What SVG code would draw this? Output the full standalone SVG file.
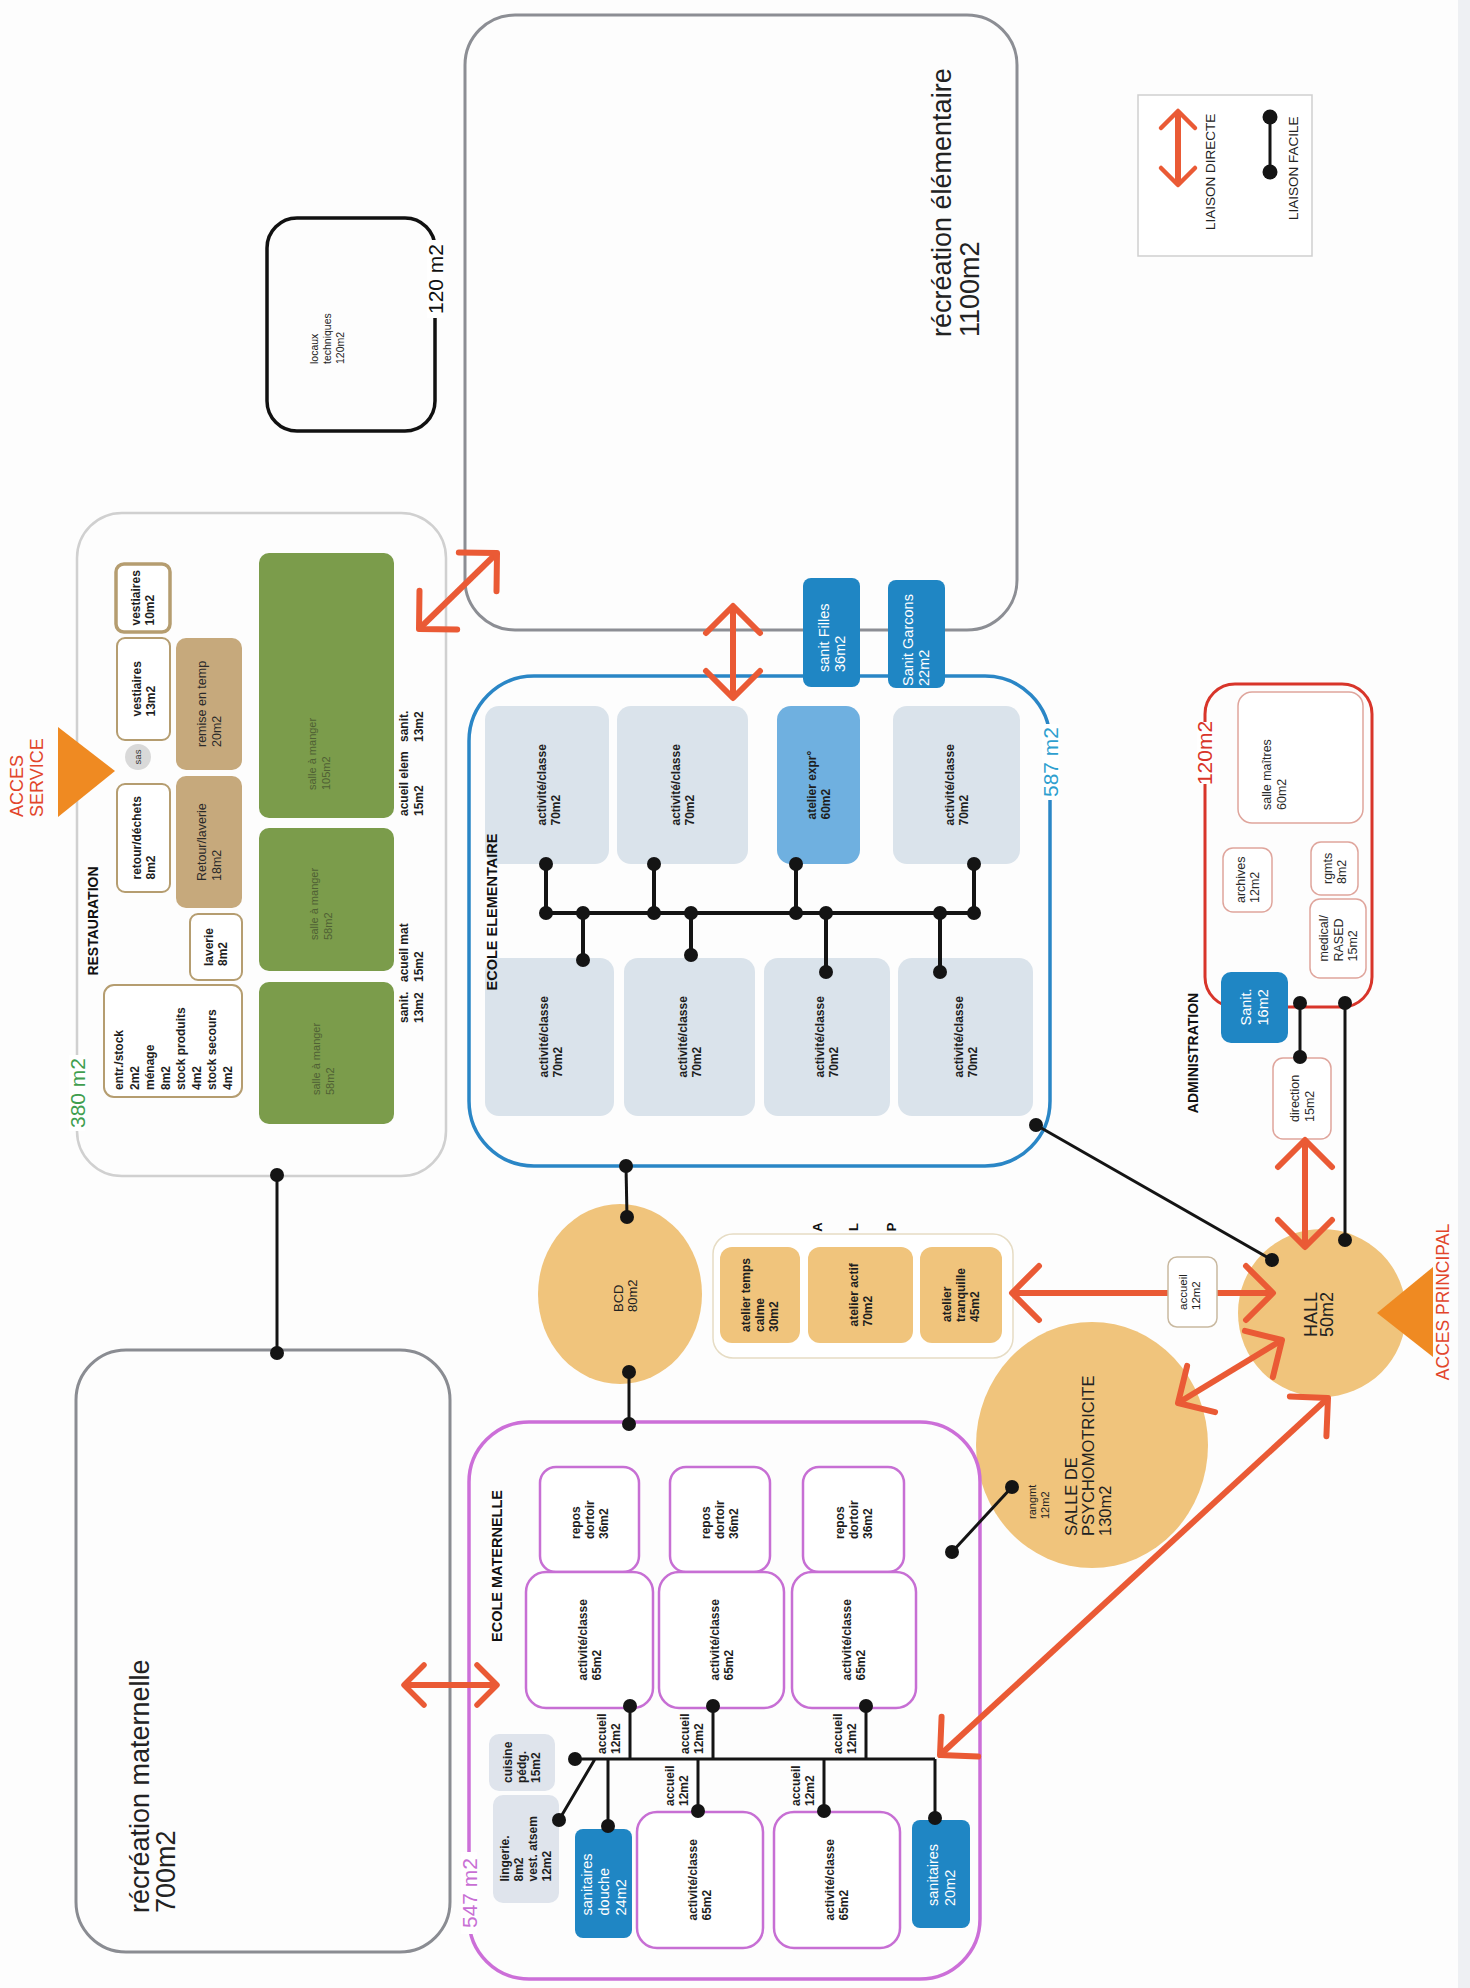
<svg xmlns="http://www.w3.org/2000/svg" width="1470" height="1988" viewBox="0 0 1470 1988">
<defs>
<style>
text{font-family:"Liberation Sans",Arial,sans-serif}
.b{font-weight:bold;font-size:12px;fill:#1e1e1e}
.r{font-size:12.5px;fill:#2a2a2a}
.w{font-size:14.5px;fill:#fff}
.g{font-size:11px;fill:#4f6034}
.t{font-weight:bold;fill:#111}
.big{font-size:27px;fill:#222}
.area{font-size:21px}
.acc{fill:#e2452b}
.conn{stroke:#141414;stroke-width:3;fill:none}
.tree{stroke:#141414;stroke-width:4;fill:none}
.dot{fill:#141414}
.arr{stroke:#ea5a35;stroke-width:6;fill:none}
.tan{fill:#fff;stroke:#b59d70;stroke-width:2}
.tanf{fill:#c6a97c}
.grn{fill:#7b9c4b}
.eb{fill:#dae3eb}
.mb{fill:#fff;stroke:#c76fd4;stroke-width:2.5}
.sb{fill:#1f86c4}
.ab{fill:#fff;stroke:#dfa59c;stroke-width:1.5}
.or{fill:#f0c47c}
.bg{fill:#fff}
</style>
<marker id="aL" viewBox="-32 -32 36 64" refX="0" refY="0" markerWidth="36" markerHeight="64" markerUnits="userSpaceOnUse" orient="auto-start-reverse"><path d="M-27,-27 L0,0 L-27,27" fill="none" stroke="#ea5a35" stroke-width="6" stroke-linecap="round" stroke-linejoin="round"/></marker>
<marker id="aM" viewBox="-25 -25 29 50" refX="0" refY="0" markerWidth="29" markerHeight="50" markerUnits="userSpaceOnUse" orient="auto-start-reverse"><path d="M-20,-20 L0,0 L-20,20" fill="none" stroke="#ea5a35" stroke-width="5.5" stroke-linecap="round" stroke-linejoin="round"/></marker>
<marker id="aS" viewBox="-21 -21 25 42" refX="0" refY="0" markerWidth="25" markerHeight="42" markerUnits="userSpaceOnUse" orient="auto-start-reverse"><path d="M-17,-17 L0,0 L-17,17" fill="none" stroke="#ea5a35" stroke-width="4.5" stroke-linecap="round" stroke-linejoin="round"/></marker>
</defs>
<rect x="0" y="0" width="1470" height="1988" fill="#fdfdfd"/>
<rect x="1458" y="0" width="12" height="1988" fill="#eef0f3"/>

<!-- récréation élémentaire -->
<g id="recreation-elementaire">
<rect x="465" y="15" width="552" height="615" rx="50" fill="none" stroke="#8c8e94" stroke-width="3"/>
<text class="big" transform="translate(951,337) rotate(-90)"><tspan x="0" y="0">récréation élémentaire</tspan><tspan x="0" y="28">1100m2</tspan></text>
</g>

<!-- locaux techniques -->
<g id="locaux-techniques">
<rect x="267" y="218" width="168" height="213" rx="30" fill="none" stroke="#111" stroke-width="3.5"/>
<rect class="bg" x="427" y="240" width="16" height="78"/>
<text class="area" fill="#111" text-anchor="middle" transform="translate(443,279) rotate(-90)">120 m2</text>
<text font-size="10.5" fill="#222" transform="translate(318,364) rotate(-90)"><tspan x="0" y="0">locaux</tspan><tspan x="0" y="13">techniques</tspan><tspan x="0" y="26">120m2</tspan></text>
</g>

<!-- récréation maternelle -->
<g id="recreation-maternelle">
<rect x="76" y="1350" width="374" height="602" rx="50" fill="none" stroke="#8a8c92" stroke-width="3"/>
<text class="big" transform="translate(149,1913) rotate(-90)"><tspan x="0" y="0">récréation maternelle</tspan><tspan x="0" y="26">700m2</tspan></text>
</g>

<!-- restauration -->
<g id="restauration">
<rect x="77" y="513" width="369" height="663" rx="45" fill="none" stroke="#d0d0d0" stroke-width="2.5"/>
<rect class="bg" x="69" y="1055" width="16" height="76"/>
<text class="area" fill="#3f9e4f" text-anchor="middle" transform="translate(85,1093) rotate(-90)">380 m2</text>
<text class="t" font-size="14" text-anchor="middle" transform="translate(98,921) rotate(-90)">RESTAURATION</text>
<g id="vestiaires10"><rect x="116" y="564" width="54" height="68" rx="8" fill="#fff" stroke="#b59d70" stroke-width="3.5"/>
<text class="b" transform="translate(143,598) rotate(-90)"><tspan x="-27.5" y="-2.7">vestiaires</tspan><tspan x="-27.5" y="11.3">10m2</tspan></text></g>
<g id="vestiaires13"><rect class="tan" x="117" y="638" width="53" height="102" rx="8"/>
<text class="b" transform="translate(143.5,689) rotate(-90)"><tspan x="-27.5" y="-2.7">vestiaires</tspan><tspan x="-27.5" y="11.3">13m2</tspan></text></g>
<g id="sas"><circle cx="138" cy="757" r="13" fill="#d9d9d9"/>
<text font-size="9.5" fill="#333" text-anchor="middle" transform="translate(141,757) rotate(-90)">sas</text></g>
<g id="remise"><rect class="tanf" x="176" y="638" width="66" height="132" rx="10"/>
<text class="r" transform="translate(209,704) rotate(-90)"><tspan x="-43" y="-2.7">remise en temp</tspan><tspan x="-43" y="12">20m2</tspan></text></g>
<g id="retour-dechets"><rect class="tan" x="117" y="784" width="53" height="108" rx="8"/>
<text class="b" transform="translate(143.5,838) rotate(-90)"><tspan x="-41.5" y="-2.7">retour/déchets</tspan><tspan x="-41.5" y="11.3">8m2</tspan></text></g>
<g id="retour-laverie"><rect class="tanf" x="176" y="776" width="66" height="132" rx="10"/>
<text class="r" transform="translate(209,842) rotate(-90)"><tspan x="-39" y="-2.7">Retour/laverie</tspan><tspan x="-39" y="12">18m2</tspan></text></g>
<g id="laverie"><rect class="tan" x="190" y="914" width="52" height="66" rx="8"/>
<text class="b" transform="translate(216,947) rotate(-90)"><tspan x="-19" y="-2.7">laverie</tspan><tspan x="-19" y="11.3">8m2</tspan></text></g>
<g id="entr-stock"><rect class="tan" x="104" y="985" width="138" height="112" rx="10"/>
<text class="b" transform="translate(173,1040) rotate(-90)"><tspan x="-50" y="-50">entr./stock</tspan><tspan x="-50" y="-34.5">2m2</tspan><tspan x="-50" y="-19">ménage</tspan><tspan x="-50" y="-3.5">8m2</tspan><tspan x="-50" y="12">stock produits</tspan><tspan x="-50" y="27.5">4m2</tspan><tspan x="-50" y="43">stock secours</tspan><tspan x="-50" y="58.5">4m2</tspan></text></g>
<g id="salle105"><rect class="grn" x="259" y="553" width="135" height="265" rx="10"/>
<text class="g" transform="translate(316,790) rotate(-90)"><tspan x="0" y="0">salle à manger</tspan><tspan x="0" y="14">105m2</tspan></text></g>
<g id="salle58a"><rect class="grn" x="259" y="828" width="135" height="143" rx="10"/>
<text class="g" transform="translate(318,940) rotate(-90)"><tspan x="0" y="0">salle à manger</tspan><tspan x="0" y="14">58m2</tspan></text></g>
<g id="salle58b"><rect class="grn" x="259" y="982" width="135" height="142" rx="10"/>
<text class="g" transform="translate(320,1095) rotate(-90)"><tspan x="0" y="0">salle à manger</tspan><tspan x="0" y="14">58m2</tspan></text></g>
<text class="b" transform="translate(408,742) rotate(-90)"><tspan x="0" y="0">sanit.</tspan><tspan x="0" y="15">13m2</tspan></text>
<text class="b" transform="translate(408,816) rotate(-90)"><tspan x="0" y="0">acueil elem</tspan><tspan x="0" y="15">15m2</tspan></text>
<text class="b" transform="translate(408,982) rotate(-90)"><tspan x="0" y="0">acueil mat</tspan><tspan x="0" y="15">15m2</tspan></text>
<text class="b" transform="translate(408,1023) rotate(-90)"><tspan x="0" y="0">sanit.</tspan><tspan x="0" y="15">13m2</tspan></text>
</g>

<!-- acces service -->
<g id="acces-service">
<polygon points="58,727 58,817 115,771" fill="#ef8a22"/>
<text class="acc" font-size="18" transform="translate(23,817) rotate(-90)"><tspan x="0" y="0">ACCES</tspan><tspan x="0" y="20">SERVICE</tspan></text>
</g>

<!-- école élémentaire -->
<g id="ecole-elementaire">
<rect x="469" y="676" width="581" height="490" rx="65" fill="none" stroke="#2a86c6" stroke-width="3.5"/>
<rect class="bg" x="1042" y="724" width="17" height="76"/>
<text class="area" fill="#2e9fcf" text-anchor="middle" transform="translate(1058,762) rotate(-90)">587 m2</text>
<g id="e1"><rect class="eb" x="485" y="706" width="124" height="158" rx="14"/><text class="b" transform="translate(549,785) rotate(-90)"><tspan x="-40.5" y="-2.7">activité/classe</tspan><tspan x="-40.5" y="11.3">70m2</tspan></text></g>
<g id="e2"><rect class="eb" x="617" y="706" width="131" height="158" rx="14"/><text class="b" transform="translate(682.5,785) rotate(-90)"><tspan x="-40.5" y="-2.7">activité/classe</tspan><tspan x="-40.5" y="11.3">70m2</tspan></text></g>
<g id="e3"><rect x="777" y="706" width="83" height="158" rx="14" fill="#6fb0e0"/><text class="b" transform="translate(818.5,785) rotate(-90)"><tspan x="-34.5" y="-2.7">atelier expr°</tspan><tspan x="-34.5" y="11.3">60m2</tspan></text></g>
<g id="e4"><rect class="eb" x="893" y="706" width="127" height="158" rx="14"/><text class="b" transform="translate(956.5,785) rotate(-90)"><tspan x="-40.5" y="-2.7">activité/classe</tspan><tspan x="-40.5" y="11.3">70m2</tspan></text></g>
<g id="e5"><rect class="eb" x="485" y="958" width="129" height="158" rx="14"/><text class="b" transform="translate(551,1037) rotate(-90)"><tspan x="-40.5" y="-2.7">activité/classe</tspan><tspan x="-40.5" y="11.3">70m2</tspan></text></g>
<g id="e6"><rect class="eb" x="624" y="958" width="131" height="158" rx="14"/><text class="b" transform="translate(689.5,1037) rotate(-90)"><tspan x="-40.5" y="-2.7">activité/classe</tspan><tspan x="-40.5" y="11.3">70m2</tspan></text></g>
<g id="e7"><rect class="eb" x="764" y="958" width="126" height="158" rx="14"/><text class="b" transform="translate(827,1037) rotate(-90)"><tspan x="-40.5" y="-2.7">activité/classe</tspan><tspan x="-40.5" y="11.3">70m2</tspan></text></g>
<g id="e8"><rect class="eb" x="898" y="958" width="135" height="158" rx="14"/><text class="b" transform="translate(965.5,1037) rotate(-90)"><tspan x="-40.5" y="-2.7">activité/classe</tspan><tspan x="-40.5" y="11.3">70m2</tspan></text></g>
<text class="t" font-size="14.5" text-anchor="middle" transform="translate(497,912) rotate(-90)">ECOLE ELEMENTAIRE</text>
</g>

<!-- sanitaires élémentaire -->
<g id="sanit-filles"><rect class="sb" x="803" y="578" width="57" height="109" rx="8"/>
<text class="w" transform="translate(829,672) rotate(-90)"><tspan x="0" y="0">sanit Filles</tspan><tspan x="0" y="16">36m2</tspan></text></g>
<g id="sanit-garcons"><rect class="sb" x="888" y="580" width="57" height="108" rx="8"/>
<text class="w" transform="translate(913,686) rotate(-90)"><tspan x="0" y="0">Sanit Garcons</tspan><tspan x="0" y="16">22m2</tspan></text></g>

<!-- administration -->
<g id="administration">
<rect x="1205" y="684" width="167" height="323" rx="30" fill="none" stroke="#d8352a" stroke-width="3"/>
<rect class="bg" x="1197" y="722" width="16" height="62"/>
<text class="area" font-size="20" fill="#d8352a" text-anchor="middle" transform="translate(1212,753) rotate(-90)">120m2</text>
<text class="t" font-size="14" text-anchor="middle" transform="translate(1198,1053) rotate(-90)">ADMINISTRATION</text>
<g id="salle-maitres"><rect class="ab" x="1238" y="692" width="125" height="131" rx="14"/>
<text class="r" transform="translate(1271,810) rotate(-90)"><tspan x="0" y="0">salle maîtres</tspan><tspan x="0" y="15">60m2</tspan></text></g>
<g id="archives"><rect class="ab" x="1223" y="848" width="49" height="64" rx="10"/>
<text class="r" transform="translate(1247.5,880) rotate(-90)"><tspan x="-23" y="-2.7">archives</tspan><tspan x="-23" y="11.8">12m2</tspan></text></g>
<g id="rgmts"><rect class="ab" x="1311" y="842" width="47" height="53" rx="10"/>
<text class="r" transform="translate(1334.5,868.5) rotate(-90)"><tspan x="-15.5" y="-2.7">rgmts</tspan><tspan x="-15.5" y="11.8">8m2</tspan></text></g>
<g id="medical"><rect class="ab" x="1310" y="899" width="56" height="79" rx="10"/>
<text class="r" transform="translate(1338,938.5) rotate(-90)"><tspan x="-23" y="-10">medical/</tspan><tspan x="-23" y="4.5">RASED</tspan><tspan x="-23" y="19">15m2</tspan></text></g>
<g id="sanit-admin"><rect class="sb" x="1221" y="972" width="67" height="71" rx="10"/>
<text class="w" font-size="14" transform="translate(1254.5,1007.5) rotate(-90)"><tspan x="-18" y="-3.5">Sanit.</tspan><tspan x="-18" y="13.5">16m2</tspan></text></g>
<g id="direction"><rect class="ab" x="1273" y="1058" width="58" height="81" rx="10"/>
<text class="r" transform="translate(1302,1098.5) rotate(-90)"><tspan x="-23.5" y="-2.7">direction</tspan><tspan x="-23.5" y="11.8">15m2</tspan></text></g>
</g>

<!-- BCD -->
<g id="bcd"><ellipse class="or" cx="620" cy="1294" rx="82" ry="90"/>
<text font-size="13" fill="#222" transform="translate(623,1312) rotate(-90)"><tspan x="0" y="0">BCD</tspan><tspan x="0" y="14">80m2</tspan></text></g>

<!-- ALP -->
<g id="alp">
<rect x="713" y="1234" width="300" height="124" rx="20" fill="#fff" stroke="#e6dcc4" stroke-width="1.5"/>
<text class="t" font-size="13" text-anchor="middle" transform="translate(822,1227) rotate(-90)">A</text>
<text class="t" font-size="13" text-anchor="middle" transform="translate(858,1227) rotate(-90)">L</text>
<text class="t" font-size="13" text-anchor="middle" transform="translate(896,1227) rotate(-90)">P</text>
<g id="atelier-calme"><rect class="or" x="720" y="1247" width="80" height="96" rx="12"/>
<text class="b" transform="translate(760,1295) rotate(-90)"><tspan x="-37" y="-9.7">atelier temps</tspan><tspan x="-37" y="4.3">calme</tspan><tspan x="-37" y="18.3">30m2</tspan></text></g>
<g id="atelier-actif"><rect class="or" x="808" y="1247" width="105" height="96" rx="12"/>
<text class="b" transform="translate(860.5,1295) rotate(-90)"><tspan x="-31.5" y="-2.7">atelier actif</tspan><tspan x="-31.5" y="11.3">70m2</tspan></text></g>
<g id="atelier-tranquille"><rect class="or" x="920" y="1247" width="82" height="96" rx="12"/>
<text class="b" transform="translate(961,1295) rotate(-90)"><tspan x="-27" y="-9.7">atelier</tspan><tspan x="-27" y="4.3">tranquille</tspan><tspan x="-27" y="18.3">45m2</tspan></text></g>
</g>

<!-- salle de psychomotricité -->
<g id="psychomotricite"><ellipse class="or" cx="1092" cy="1445" rx="116" ry="123"/>
<text font-size="16.5" fill="#222" transform="translate(1077,1536) rotate(-90)"><tspan x="0" y="0">SALLE DE</tspan><tspan x="0" y="17">PSYCHOMOTRICITE</tspan><tspan x="0" y="34">130m2</tspan></text>
<text font-size="11" fill="#222" transform="translate(1036,1519) rotate(-90)"><tspan x="0" y="0">rangmt</tspan><tspan x="0" y="13">12m2</tspan></text></g>

<!-- hall -->
<g id="hall"><circle class="or" cx="1322" cy="1313" r="84"/>
<text font-size="18" fill="#222" transform="translate(1317,1337) rotate(-90)"><tspan x="0" y="0">HALL</tspan><tspan x="0" y="16">50m2</tspan></text></g>

<!-- acces principal -->
<g id="acces-principal">
<polygon points="1433,1267 1433,1357 1377,1313" fill="#ef8a22"/>
<text class="acc" font-size="17.5" text-anchor="middle" transform="translate(1449,1302) rotate(-90)">ACCES PRINCIPAL</text>
</g>

<!-- école maternelle -->
<g id="ecole-maternelle">
<rect x="469" y="1422" width="511" height="557" rx="60" fill="none" stroke="#cc6fd8" stroke-width="3.5"/>
<rect class="bg" x="461" y="1852" width="16" height="82"/>
<text class="area" font-size="22" fill="#c86fd4" text-anchor="middle" transform="translate(477,1893) rotate(-90)">547 m2</text>
<text class="t" font-size="14.5" text-anchor="middle" transform="translate(502,1566) rotate(-90)">ECOLE MATERNELLE</text>
<g id="repos1"><rect class="mb" x="540" y="1467" width="99" height="105" rx="16"/><text class="b" transform="translate(589.5,1519.5) rotate(-90)"><tspan x="-19.5" y="-9.7">repos</tspan><tspan x="-19.5" y="4.3">dortoir</tspan><tspan x="-19.5" y="18.3">36m2</tspan></text></g>
<g id="repos2"><rect class="mb" x="670" y="1467" width="100" height="105" rx="16"/><text class="b" transform="translate(720,1519.5) rotate(-90)"><tspan x="-19.5" y="-9.7">repos</tspan><tspan x="-19.5" y="4.3">dortoir</tspan><tspan x="-19.5" y="18.3">36m2</tspan></text></g>
<g id="repos3"><rect class="mb" x="803" y="1467" width="101" height="105" rx="16"/><text class="b" transform="translate(853.5,1519.5) rotate(-90)"><tspan x="-19.5" y="-9.7">repos</tspan><tspan x="-19.5" y="4.3">dortoir</tspan><tspan x="-19.5" y="18.3">36m2</tspan></text></g>
<g id="m1"><rect class="mb" x="526" y="1572" width="127" height="136" rx="20"/><text class="b" transform="translate(589.5,1640) rotate(-90)"><tspan x="-40.5" y="-2.7">activité/classe</tspan><tspan x="-40.5" y="11.3">65m2</tspan></text></g>
<g id="m2"><rect class="mb" x="659" y="1572" width="125" height="136" rx="20"/><text class="b" transform="translate(721.5,1640) rotate(-90)"><tspan x="-40.5" y="-2.7">activité/classe</tspan><tspan x="-40.5" y="11.3">65m2</tspan></text></g>
<g id="m3"><rect class="mb" x="792" y="1572" width="124" height="136" rx="20"/><text class="b" transform="translate(854,1640) rotate(-90)"><tspan x="-40.5" y="-2.7">activité/classe</tspan><tspan x="-40.5" y="11.3">65m2</tspan></text></g>
<g id="m4"><rect class="mb" x="637" y="1812" width="126" height="136" rx="20"/><text class="b" transform="translate(700,1880) rotate(-90)"><tspan x="-40.5" y="-2.7">activité/classe</tspan><tspan x="-40.5" y="11.3">65m2</tspan></text></g>
<g id="m5"><rect class="mb" x="774" y="1812" width="126" height="136" rx="20"/><text class="b" transform="translate(837,1880) rotate(-90)"><tspan x="-40.5" y="-2.7">activité/classe</tspan><tspan x="-40.5" y="11.3">65m2</tspan></text></g>
<g id="sanit-douche"><rect class="sb" x="575" y="1829" width="57" height="109" rx="8"/><text class="w" font-size="15" transform="translate(603.5,1883.5) rotate(-90)"><tspan x="-32" y="-11.6">sanitaires</tspan><tspan x="-32" y="5.4">douche</tspan><tspan x="-32" y="22.4">24m2</tspan></text></g>
<g id="sanit-20"><rect class="sb" x="912" y="1820" width="58" height="108" rx="8"/><text class="w" font-size="15" transform="translate(941,1874) rotate(-90)"><tspan x="-32" y="-3.1">sanitaires</tspan><tspan x="-32" y="13.9">20m2</tspan></text></g>
<g id="cuisine"><rect x="489" y="1734" width="66" height="57" rx="10" fill="#dfe4ec"/><text class="b" transform="translate(522,1762.5) rotate(-90)"><tspan x="-20.5" y="-9.7">cuisine</tspan><tspan x="-20.5" y="4.3">pédg.</tspan><tspan x="-20.5" y="18.3">15m2</tspan></text></g>
<g id="lingerie"><rect x="493" y="1795" width="66" height="108" rx="10" fill="#dfe4ec"/><text class="b" transform="translate(526,1849) rotate(-90)"><tspan x="-32.5" y="-16.7">lingerie.</tspan><tspan x="-32.5" y="-2.7">8m2</tspan><tspan x="-32.5" y="11.3">vest. atsem</tspan><tspan x="-32.5" y="25.3">12m2</tspan></text></g>
<text class="b" transform="translate(606,1754) rotate(-90)"><tspan x="0" y="0">accueil</tspan><tspan x="0" y="14">12m2</tspan></text>
<text class="b" transform="translate(689,1754) rotate(-90)"><tspan x="0" y="0">accueil</tspan><tspan x="0" y="14">12m2</tspan></text>
<text class="b" transform="translate(842,1754) rotate(-90)"><tspan x="0" y="0">accueil</tspan><tspan x="0" y="14">12m2</tspan></text>
<text class="b" transform="translate(674,1806) rotate(-90)"><tspan x="0" y="0">accueil</tspan><tspan x="0" y="14">12m2</tspan></text>
<text class="b" transform="translate(800,1806) rotate(-90)"><tspan x="0" y="0">accueil</tspan><tspan x="0" y="14">12m2</tspan></text>
</g>

<!-- legend -->
<g id="legend">
<rect x="1138" y="95" width="174" height="161" fill="#fff" stroke="#cfcfcf" stroke-width="1.5"/>
<line class="arr" x1="1178" y1="111" x2="1178" y2="185" stroke-width="4.5" marker-start="url(#aS)" marker-end="url(#aS)"/>
<text font-size="13.5" fill="#222" transform="translate(1215,230) rotate(-90)">LIAISON DIRECTE</text>
<line class="conn" x1="1270" y1="117" x2="1270" y2="172"/>
<circle class="dot" cx="1270" cy="117" r="7.5"/>
<circle class="dot" cx="1270" cy="172" r="7.5"/>
<text font-size="13.5" fill="#222" transform="translate(1298,220) rotate(-90)">LIAISON FACILE</text>
</g>

<!-- connectors -->
<g id="connectors">
<line class="conn" x1="277" y1="1175" x2="277" y2="1353"/>
<line class="conn" x1="626" y1="1166" x2="627" y2="1217"/>
<line class="conn" x1="629" y1="1372" x2="629" y2="1424"/>
<line class="conn" x1="1036" y1="1125" x2="1272" y2="1260"/>
<line class="conn" x1="1345" y1="1003" x2="1345" y2="1240"/>
<line class="conn" x1="1300" y1="1003" x2="1300" y2="1057"/>
<line class="conn" x1="1012" y1="1487" x2="952" y2="1552"/>
<path class="tree" d="M546,913 H974 M546,864 V913 M654,864 V913 M796,864 V913 M974,864 V913 M583,913 V960 M691,913 V955 M826,913 V972 M940,913 V972"/>
<path class="conn" stroke-width="3.5" d="M575,1759 H935 M630,1706 V1759 M713,1706 V1759 M866,1706 V1759 M608,1759 V1826 M698,1759 V1811 M824,1759 V1811 M935,1759 V1818 M595,1759 L559,1820"/>
<g class="dot">
<circle cx="277" cy="1175" r="7"/><circle cx="277" cy="1353" r="7"/>
<circle cx="626" cy="1166" r="7"/><circle cx="627" cy="1217" r="7"/>
<circle cx="629" cy="1372" r="7"/><circle cx="629" cy="1424" r="7"/>
<circle cx="1036" cy="1125" r="7"/><circle cx="1272" cy="1260" r="7"/>
<circle cx="1345" cy="1003" r="7"/><circle cx="1345" cy="1240" r="7"/>
<circle cx="1300" cy="1003" r="7"/><circle cx="1300" cy="1057" r="7"/>
<circle cx="1012" cy="1487" r="7"/><circle cx="952" cy="1552" r="7"/>
<circle cx="546" cy="864" r="7"/><circle cx="654" cy="864" r="7"/><circle cx="796" cy="864" r="7"/><circle cx="974" cy="864" r="7"/>
<circle cx="546" cy="913" r="7"/><circle cx="583" cy="913" r="7"/><circle cx="654" cy="913" r="7"/><circle cx="691" cy="913" r="7"/>
<circle cx="796" cy="913" r="7"/><circle cx="826" cy="913" r="7"/><circle cx="940" cy="913" r="7"/><circle cx="974" cy="913" r="7"/>
<circle cx="583" cy="960" r="7"/><circle cx="691" cy="955" r="7"/><circle cx="826" cy="972" r="7"/><circle cx="940" cy="972" r="7"/>
<circle cx="575" cy="1759" r="7"/>
<circle cx="630" cy="1706" r="7"/><circle cx="713" cy="1706" r="7"/><circle cx="866" cy="1706" r="7"/>
<circle cx="608" cy="1826" r="7"/><circle cx="698" cy="1811" r="7"/><circle cx="824" cy="1811" r="7"/><circle cx="935" cy="1818" r="7"/>
<circle cx="559" cy="1820" r="7"/>
</g>
<line class="arr" x1="419" y1="629" x2="497" y2="553" marker-start="url(#aL)" marker-end="url(#aL)"/>
<line class="arr" x1="733" y1="606" x2="733" y2="698" marker-start="url(#aL)" marker-end="url(#aL)"/>
<line class="arr" x1="404" y1="1685" x2="497" y2="1685" stroke-width="5.5" marker-start="url(#aM)" marker-end="url(#aM)"/>
<line class="arr" x1="1012" y1="1293" x2="1273" y2="1293" marker-start="url(#aL)" marker-end="url(#aL)"/>
<line class="arr" x1="1305" y1="1140" x2="1305" y2="1247" marker-start="url(#aL)" marker-end="url(#aL)"/>
<line class="arr" x1="1178" y1="1403" x2="1282" y2="1340" marker-start="url(#aL)" marker-end="url(#aL)"/>
<line class="arr" x1="940" y1="1755" x2="1328" y2="1398" marker-start="url(#aL)" marker-end="url(#aL)"/>
</g>

<!-- accueil hall -->
<g id="accueil-hall"><rect x="1168" y="1257" width="49" height="70" rx="9" fill="#fff" stroke="#c9b9a0" stroke-width="1.5"/>
<text font-size="11.5" fill="#222" transform="translate(1187,1310) rotate(-90)"><tspan x="0" y="0">accueil</tspan><tspan x="0" y="13">12m2</tspan></text></g>
</svg>
